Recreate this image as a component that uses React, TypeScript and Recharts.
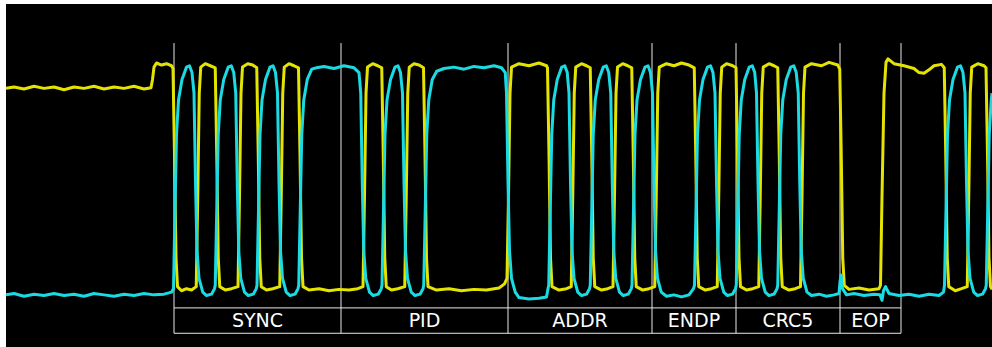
import React from 'react';
import { LineChart, Line, XAxis, YAxis, ReferenceLine, ReferenceArea } from 'recharts';

// time in ns (full-speed USB, 83.3 ns per bit), voltage in V
const dPlus: [number, number][] = [
  [-672, 2.97], [-640, 2.99], [-600, 2.96], [-560, 3.0], [-520, 2.97], [-480, 2.99], [-440, 2.95], [-400, 2.99],
  [-360, 2.97], [-320, 3.0], [-280, 2.96], [-240, 2.99], [-200, 2.97], [-160, 3.0], [-120, 2.96], [-92, 2.98],
  [-86, 3.1], [-80, 3.28], [-70, 3.34], [-50, 3.31], [-30, 3.33], [-10, 3.3],
  [-4, 3.26], [2, 2.0], [8, 0.5], [14, 0.08], [30, 0.02], [50, 0.05], [70, 0.03],
  [89, 0.08], [95, 1.4], [101, 2.9], [107, 3.28], [125, 3.33], [145, 3.3],
  [165, 3.27], [171, 2.0], [177, 0.5], [183, 0.08], [205, 0.03], [230, 0.05],
  [256, 0.08], [262, 1.4], [268, 2.9], [274, 3.28], [295, 3.33], [315, 3.31],
  [331, 3.27], [337, 2.0], [343, 0.5], [349, 0.08], [370, 0.03], [395, 0.05],
  [423, 0.08], [429, 1.4], [435, 2.9], [441, 3.28], [460, 3.33], [480, 3.3],
  [498, 3.27], [504, 2.0], [510, 0.5], [516, 0.08], [540, 0.03], [580, 0.05], [620, 0.02], [660, 0.04], [700, 0.03], [735, 0.05],
  [756, 0.08], [762, 1.4], [768, 2.9], [774, 3.28], [795, 3.33], [815, 3.3],
  [831, 3.27], [837, 2.0], [843, 0.5], [849, 0.08], [870, 0.03], [895, 0.05],
  [923, 0.08], [929, 1.4], [935, 2.9], [941, 3.28], [960, 3.33], [980, 3.31],
  [998, 3.27], [1004, 2.0], [1010, 0.5], [1016, 0.08], [1050, 0.03], [1100, 0.05], [1150, 0.02], [1200, 0.04], [1250, 0.03], [1300, 0.06], [1322, 0.12],
  [1332, 0.2], [1338, 1.4], [1344, 2.9], [1350, 3.28], [1380, 3.33], [1420, 3.3], [1460, 3.34], [1490, 3.3],
  [1494, 3.27], [1500, 2.0], [1506, 0.5], [1512, 0.08], [1540, 0.03], [1570, 0.05],
  [1589, 0.08], [1595, 1.4], [1601, 2.9], [1607, 3.28], [1630, 3.33], [1650, 3.3],
  [1665, 3.27], [1671, 2.0], [1677, 0.5], [1683, 0.08], [1710, 0.03], [1735, 0.05],
  [1756, 0.08], [1762, 1.4], [1768, 2.9], [1774, 3.28], [1795, 3.33], [1815, 3.3],
  [1831, 3.27], [1837, 2.0], [1843, 0.5], [1849, 0.08], [1875, 0.03], [1900, 0.05],
  [1923, 0.08], [1929, 1.4], [1935, 2.9], [1941, 3.28], [1970, 3.33], [2000, 3.3], [2030, 3.34], [2060, 3.31],
  [2081, 3.27], [2087, 2.0], [2093, 0.5], [2099, 0.08], [2125, 0.03], [2150, 0.05],
  [2173, 0.08], [2179, 1.4], [2185, 2.9], [2191, 3.28], [2210, 3.33], [2235, 3.3],
  [2248, 3.27], [2254, 2.0], [2260, 0.5], [2266, 0.08], [2290, 0.03], [2315, 0.05],
  [2339, 0.08], [2345, 1.4], [2351, 2.9], [2357, 3.28], [2380, 3.33], [2400, 3.3],
  [2415, 3.27], [2421, 2.0], [2427, 0.5], [2433, 0.08], [2460, 0.03], [2485, 0.05],
  [2506, 0.08], [2512, 1.4], [2518, 2.9], [2524, 3.28], [2550, 3.33], [2590, 3.3], [2620, 3.35], [2655, 3.31],
  [2663, 3.25], [2669, 2.0], [2675, 0.5], [2681, 0.1], [2700, 0.04], [2740, 0.06], [2780, 0.03], [2820, 0.05],
  [2826, 0.1], [2832, 1.4], [2840, 2.9], [2848, 3.35], [2856, 3.4],
  [2880, 3.33], [2920, 3.3], [2960, 3.26], [2980, 3.2], [3000, 3.19], [3020, 3.24], [3040, 3.3], [3070, 3.32],
  [3081, 3.27], [3087, 2.0], [3093, 0.5], [3099, 0.08], [3125, 0.02], [3150, 0.05],
  [3173, 0.08], [3179, 1.4], [3185, 2.9], [3191, 3.28], [3215, 3.33], [3240, 3.3],
  [3248, 3.27], [3254, 2.0], [3260, 0.5], [3266, 0.08], [3272, 0.04],
];

const dMinus: [number, number][] = [
  [-672, -0.04], [-640, -0.02], [-600, -0.06], [-560, -0.03], [-520, -0.05], [-480, -0.02], [-440, -0.05], [-400, -0.03],
  [-360, -0.06], [-320, -0.02], [-280, -0.04], [-240, -0.06], [-200, -0.03], [-160, -0.05], [-120, -0.02], [-80, -0.04], [-40, -0.03], [-10, 0.0],
  [-2, 0.05], [4, 1.2], [10, 2.3], [18, 2.8], [32, 3.1], [50, 3.28], [62, 3.3], [72, 3.2],
  [80, 2.9], [86, 1.6], [92, 0.6], [100, 0.2], [115, 0.0], [130, -0.05], [150, -0.03], [162, 0.05],
  [165, 0.1], [171, 1.2], [177, 2.3], [185, 2.8], [199, 3.1], [217, 3.28], [229, 3.3], [239, 3.2],
  [247, 2.9], [253, 1.6], [259, 0.6], [267, 0.2], [282, 0.0], [297, -0.05], [317, -0.03], [329, 0.05],
  [332, 0.1], [338, 1.2], [344, 2.3], [352, 2.8], [366, 3.1], [384, 3.28], [396, 3.3], [406, 3.2],
  [414, 2.9], [420, 1.6], [426, 0.6], [434, 0.2], [449, 0.0], [464, -0.05], [484, -0.03], [496, 0.05],
  [499, 0.1], [505, 1.2], [511, 2.3], [519, 2.8], [533, 3.1], [551, 3.25], [570, 3.27], [600, 3.29], [640, 3.26], [680, 3.3], [720, 3.27], [740, 3.2],
  [747, 2.9], [753, 1.6], [759, 0.6], [767, 0.2], [782, 0.0], [797, -0.05], [817, -0.03], [829, 0.05],
  [832, 0.1], [838, 1.2], [844, 2.3], [852, 2.8], [866, 3.1], [884, 3.28], [896, 3.3], [906, 3.2],
  [914, 2.9], [920, 1.6], [926, 0.6], [934, 0.2], [949, 0.0], [964, -0.05], [984, -0.03], [996, 0.05],
  [999, 0.1], [1005, 1.2], [1011, 2.3], [1019, 2.8], [1033, 3.1], [1051, 3.22], [1080, 3.26], [1120, 3.28], [1160, 3.25], [1200, 3.29], [1240, 3.27], [1280, 3.3], [1310, 3.27], [1325, 3.2],
  [1330, 2.9], [1336, 1.6], [1342, 0.6], [1350, 0.2], [1365, 0.0], [1380, -0.08], [1420, -0.1], [1460, -0.09], [1490, -0.07], [1496, 0.05],
  [1499, 0.1], [1505, 1.2], [1511, 2.3], [1519, 2.8], [1533, 3.1], [1551, 3.28], [1563, 3.3], [1573, 3.2],
  [1580, 2.9], [1586, 1.6], [1592, 0.6], [1600, 0.2], [1615, 0.0], [1630, -0.05], [1650, -0.03], [1662, 0.05],
  [1665, 0.1], [1671, 1.2], [1677, 2.3], [1685, 2.8], [1699, 3.1], [1717, 3.28], [1729, 3.3], [1739, 3.2],
  [1747, 2.9], [1753, 1.6], [1759, 0.6], [1767, 0.2], [1782, 0.0], [1797, -0.05], [1817, -0.03], [1829, 0.05],
  [1832, 0.1], [1838, 1.2], [1844, 2.3], [1852, 2.8], [1866, 3.1], [1884, 3.28], [1896, 3.3], [1906, 3.2],
  [1914, 2.9], [1920, 1.6], [1926, 0.6], [1934, 0.2], [1949, 0.0], [1970, -0.06], [2000, -0.04], [2030, -0.07], [2060, -0.04], [2078, 0.05],
  [2082, 0.1], [2088, 1.2], [2094, 2.3], [2102, 2.8], [2116, 3.1], [2134, 3.28], [2146, 3.3], [2156, 3.2],
  [2164, 2.9], [2170, 1.6], [2176, 0.6], [2184, 0.2], [2199, 0.0], [2214, -0.05], [2234, -0.03], [2246, 0.05],
  [2249, 0.1], [2255, 1.2], [2261, 2.3], [2269, 2.8], [2283, 3.1], [2301, 3.28], [2313, 3.3], [2323, 3.2],
  [2330, 2.9], [2336, 1.6], [2342, 0.6], [2350, 0.2], [2365, 0.0], [2380, -0.05], [2400, -0.03], [2412, 0.05],
  [2415, 0.1], [2421, 1.2], [2427, 2.3], [2435, 2.8], [2449, 3.1], [2467, 3.28], [2479, 3.3], [2489, 3.2],
  [2497, 2.9], [2503, 1.6], [2509, 0.6], [2517, 0.2], [2532, 0.0], [2550, -0.05], [2580, -0.03], [2610, -0.06], [2640, -0.04], [2660, -0.02],
  [2664, 0.15], [2668, 0.25], [2674, 0.05], [2690, -0.04], [2720, -0.02], [2760, -0.05], [2800, -0.03], [2824, -0.04], [2832, -0.12], [2838, 0.02], [2846, 0.08],
  [2860, -0.02], [2900, -0.05], [2940, -0.03], [2980, -0.06], [3020, -0.03], [3060, -0.05], [3078, 0.0],
  [3082, 0.1], [3088, 1.2], [3094, 2.3], [3102, 2.8], [3116, 3.1], [3134, 3.28], [3146, 3.3], [3156, 3.2],
  [3164, 2.9], [3170, 1.6], [3176, 0.6], [3184, 0.2], [3199, 0.0], [3214, -0.05], [3234, -0.03], [3246, 0.05],
  [3249, 0.1], [3255, 1.2], [3261, 2.3], [3269, 2.8], [3272, 2.9],
];

const sectionBounds = [0, 668, 1336, 1912, 2248, 2664, 2908];
const sectionLabels = ['SYNC', 'PID', 'ADDR', 'ENDP', 'CRC5', 'EOP'];

const T_MIN = -672;
const T_MAX = 3272;
const V_MIN = -0.8;
const V_MAX = 4.2;
const MARK_TOP = 3.63;
const ROW_TOP = -0.23;
const ROW_BOTTOM = -0.6;

const plusData = dPlus.map(([t, v]) => ({ t, v }));
const minusData = dMinus.map(([t, v]) => ({ t, v }));

export default function App() {
  return (
    <div style={{ position: 'absolute', left: 6, top: 4, width: 986, height: 343, background: '#000' }}>
      <LineChart width={986} height={343} margin={{ top: 0, right: 0, bottom: 0, left: 0 }}>
        <XAxis type="number" dataKey="t" domain={[T_MIN, T_MAX]} allowDataOverflow hide />
        <YAxis type="number" domain={[V_MIN, V_MAX]} allowDataOverflow hide />
        {sectionBounds.map((b) => (
          <ReferenceLine
            key={'v' + b}
            segment={[{ x: b, y: MARK_TOP }, { x: b, y: ROW_BOTTOM }]}
            stroke="#e8e8e8"
            strokeWidth={1}
            ifOverflow="visible"
          />
        ))}
        <ReferenceLine
          segment={[{ x: sectionBounds[0], y: ROW_TOP }, { x: sectionBounds[sectionBounds.length - 1], y: ROW_TOP }]}
          stroke="#e8e8e8"
          strokeWidth={1}
          ifOverflow="visible"
        />
        <ReferenceLine
          segment={[{ x: sectionBounds[0], y: ROW_BOTTOM }, { x: sectionBounds[sectionBounds.length - 1], y: ROW_BOTTOM }]}
          stroke="#e8e8e8"
          strokeWidth={1}
          ifOverflow="visible"
        />
        {sectionLabels.map((name, i) => (
          <ReferenceArea
            key={name}
            x1={sectionBounds[i]}
            x2={sectionBounds[i + 1]}
            y1={ROW_BOTTOM}
            y2={ROW_TOP}
            fill="none"
            stroke="none"
            ifOverflow="visible"
            label={{ value: name, position: 'center', fill: '#ffffff', fontSize: 19, fontFamily: 'DejaVu Sans' }}
          />
        ))}
        <Line
          data={plusData}
          dataKey="v"
          type="linear"
          stroke="#e4e400"
          strokeWidth={3}
          dot={false}
          isAnimationActive={false}
          strokeLinejoin="round"
        />
        <Line
          data={minusData}
          dataKey="v"
          type="linear"
          stroke="#1adbe3"
          strokeWidth={3}
          dot={false}
          isAnimationActive={false}
          strokeLinejoin="round"
        />
      </LineChart>
    </div>
  );
}
